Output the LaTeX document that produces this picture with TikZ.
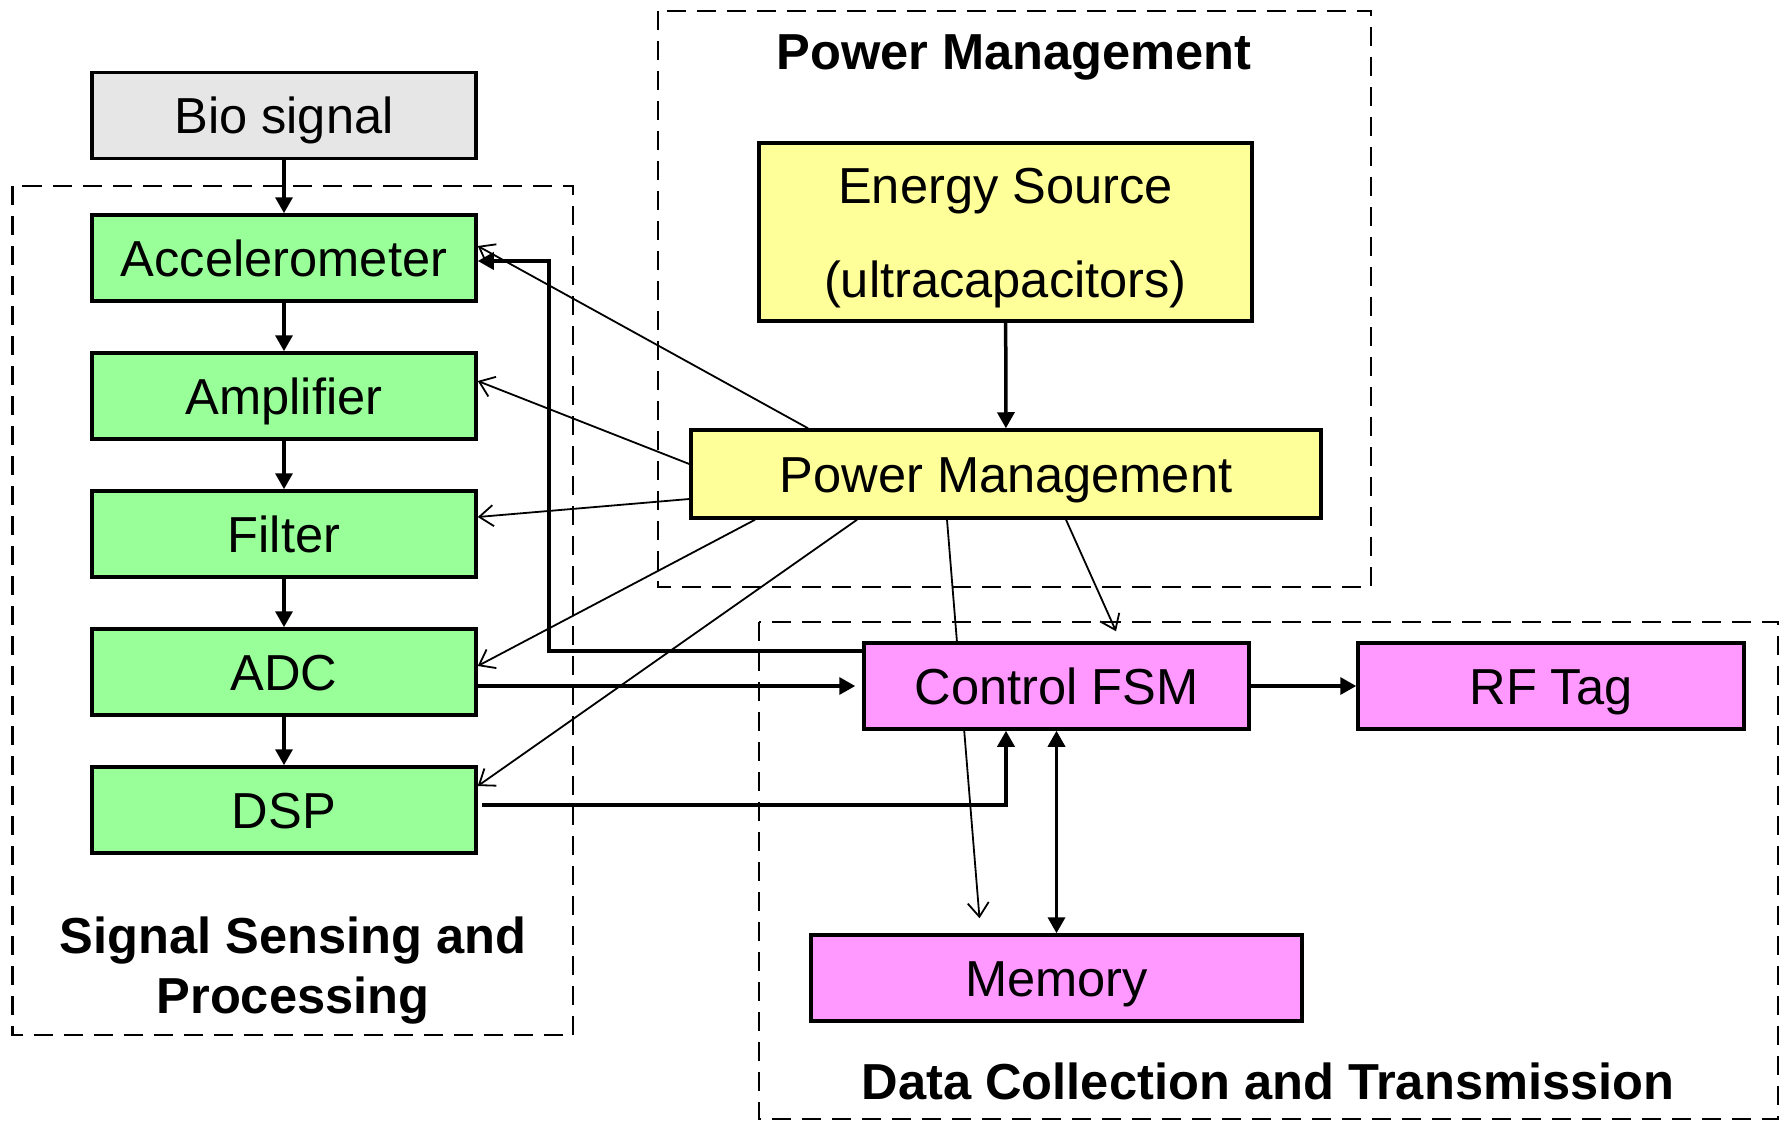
\documentclass[tikz,border=0pt]{standalone}
\usepackage{fontspec}
\setmainfont{Liberation Sans}
\usetikzlibrary{arrows.meta}
\definecolor{bgreen}{HTML}{99FF99}
\definecolor{byellow}{HTML}{FFFF99}
\definecolor{bpink}{HTML}{FF99FF}
\definecolor{bgray}{HTML}{E6E6E6}
\begin{document}
\begin{tikzpicture}[x=1pt,y=-1pt,
  box/.style={draw, line width=3.5pt, minimum width=384pt, minimum height=86pt, inner sep=0pt,
              text height=36pt, text depth=0pt,
              font=\fontsize{50.6}{60}\selectfont},
  sigbox/.style={box, fill=bgreen},
  pwrbox/.style={box, fill=byellow},
  databox/.style={box, fill=bpink},
  grp/.style={draw, line width=2.8pt, dash pattern=on 19pt off 11pt},
  lbl/.style={font=\fontsize{50.6}{60}\selectfont\bfseries, align=center, inner sep=0pt},
  thickarrow/.style={line width=3.5pt, -{Triangle[length=16pt,width=17pt]}},
  thinarrow/.style={line width=1.8pt, -{Straight Barb[length=14pt,width=21pt,line width=1.8pt]}},
]
\useasboundingbox (0,0) rectangle (1785,1121);

% group frames
\draw[grp] (12.5,186) rectangle (573,1035);
\draw[grp] (658,11) rectangle (1371,587);
\draw[grp] (759,622) rectangle (1778,1119);

\node[lbl] (siglbl) at (293,971) {Signal Sensing and\\Processing};
\node[lbl, text height=36pt, text depth=0pt] (pwrlbl) at (1014,52) {Power Management};
\node[lbl, text height=36pt, text depth=0pt] (datalbl) at (1268,1081) {Data Collection and Transmission};

% nodes
\node[box, fill=bgray] (bio) at (284,115.5) {Bio signal};
\node[sigbox] (acc) at (284,258) {Accelerometer};
\node[sigbox] (amp) at (284,396) {Amplifier};
\node[sigbox] (filt) at (284,534) {Filter};
\node[sigbox] (adc) at (284,672) {ADC};
\node[sigbox] (dsp) at (284,810) {DSP};

\node[pwrbox, minimum width=493pt, minimum height=178pt, font=\fontsize{50.6}{94}\selectfont,
      align=center, text height=130pt, text depth=0pt]
  (energy) at (1005.5,232) {Energy Source\\(ultracapacitors)};
\node[pwrbox, minimum width=630pt, minimum height=88pt] (pm) at (1006,474) {Power Management};

\node[databox, minimum width=491pt] (mem) at (1056.5,978) {Memory};
\node[databox, minimum width=386pt] (rf) at (1551,686) {RF Tag};

% thin line passing behind Control FSM
\draw[thinarrow] ([xshift=-59pt]pm.south) -- ([xshift=-77pt,yshift=15pt]mem.north);

\node[databox, minimum width=385pt] (fsm) at (1056.5,686) {Control FSM};

% signal chain
\draw[thickarrow] (bio) -- (acc);
\draw[thickarrow] (acc) -- (amp);
\draw[thickarrow] (amp) -- (filt);
\draw[thickarrow] (filt) -- (adc);
\draw[thickarrow] (adc) -- (dsp);

% power
\draw[thickarrow] (energy) -- (pm);

% power distribution
\draw[thinarrow] ([xshift=-198pt]pm.north) -- ([yshift=12pt]acc.east);
\draw[thinarrow] ([yshift=10pt]pm.west) -- ([yshift=15pt]amp.east);
\draw[thinarrow] ([yshift=-25pt]pm.west) -- ([yshift=17pt]filt.east);
\draw[thinarrow] ([xshift=-251pt]pm.south) -- ([yshift=6pt]adc.east);
\draw[thinarrow] ([xshift=-149pt]pm.south) -- ([yshift=24pt]dsp.east);
\draw[thinarrow] ([xshift=60pt]pm.south) -- ([xshift=59.5pt,yshift=10pt]fsm.north);

% data connections
\draw[thickarrow, shorten >=7pt] (adc.east |- fsm.west) -- (fsm.west);
\draw[thickarrow] ([yshift=35pt]fsm.west) -- (549,651) |- ([yshift=-3pt]acc.east);
\draw[thickarrow] ([xshift=4pt,yshift=5pt]dsp.east) -| ([xshift=-50.5pt]fsm.south);
\draw[line width=3.5pt, {Triangle[length=16pt,width=17pt]}-{Triangle[length=16pt,width=17pt]}] (fsm.south) -- (mem.north);
\draw[thickarrow] (fsm.east) -- (rf.west);
\end{tikzpicture}
\end{document}
